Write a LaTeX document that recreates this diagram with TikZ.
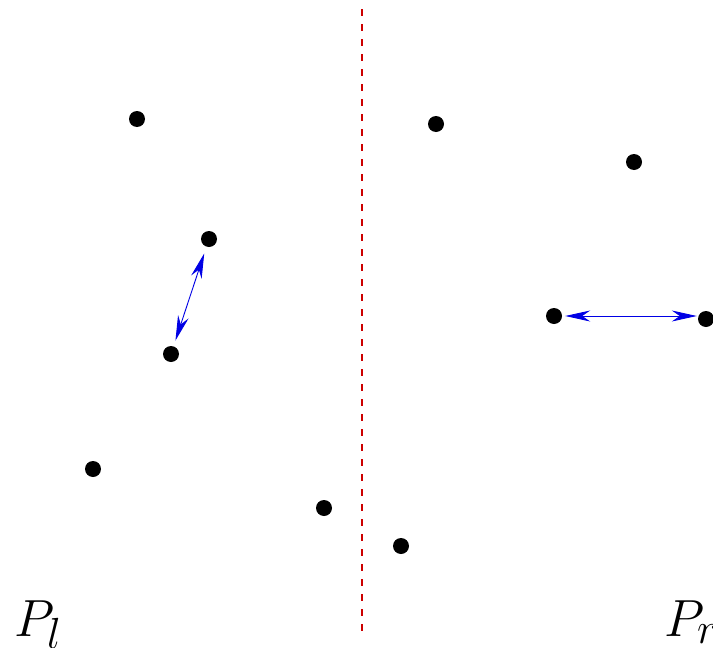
\documentclass[tikz,border=0pt]{standalone}
\usetikzlibrary{arrows.meta}
\newcommand{\biglbl}[1]{\scalebox{2.1}{\Huge$#1$}}
\begin{document}
\begin{tikzpicture}[x=1pt,y=-1pt,
  dot/.style={circle,fill=black,inner sep=0pt,minimum size=16pt},
  darr/.style={blue!90!black,line width=0.9pt,
    {Stealth[length=25pt,width=11pt,inset=8pt]}-{Stealth[length=25pt,width=11pt,inset=8pt]}},
  divider/.style={red!80!black,line width=1.6pt,dash pattern=on 7pt off 8pt},
  lbl/.style={inner sep=0pt}]
\useasboundingbox (0,0) rectangle (713,648);
\node[dot] (a) at (137,119) {};
\node[dot] (b) at (209,239) {};
\node[dot] (c) at (171,354) {};
\node[dot] (d) at (93,469) {};
\node[dot] (e) at (324,508) {};
\node[dot] (f) at (436,124) {};
\node[dot] (g) at (634,162) {};
\node[dot] (h) at (554,316) {};
\node[dot] (i) at (706,319) {};
\node[dot] (j) at (401,546) {};
\coordinate (top) at (362,9);
\coordinate (bot) at (362,632);
\draw[divider] (top) -- (bot);
\draw[darr,shorten <=6pt,shorten >=7pt] (c) -- (b);
\coordinate (hr) at ([xshift=3pt]h.east);
\coordinate (il) at ([xshift=-1pt]h -| i.west);
\draw[darr] (hr) -- (il);
\node[lbl,anchor=base west] (pl) at (14,636) {\biglbl{P_l}};
\node[lbl,anchor=base west] (pr) at (664,636) {\biglbl{P_r}};
\end{tikzpicture}
\end{document}
